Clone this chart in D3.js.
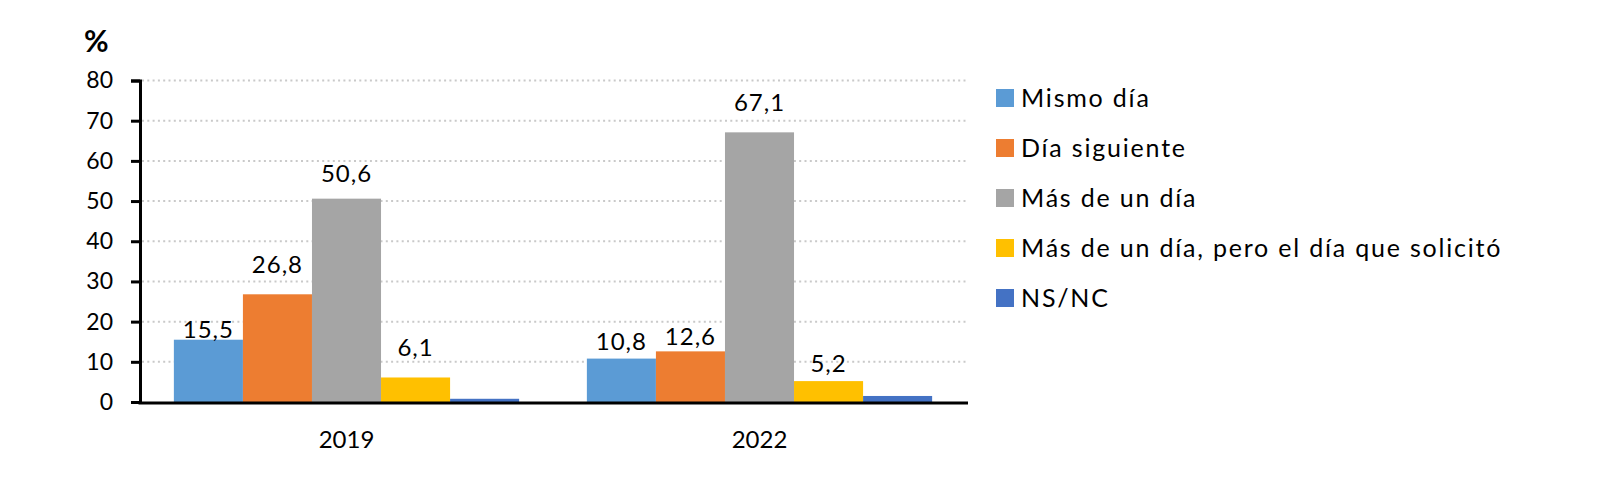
<!DOCTYPE html>
<html>
<head>
<meta charset="utf-8">
<script src="https://cdn.jsdelivr.net/npm/d3@7"></script>
<style>
  body { margin: 0; background: #fff; }
  text { font-family: Lato, "Open Sans", sans-serif; fill: #000; }
</style>
</head>
<body>
<div class="chart"></div>
<script>
// data
var years = ["2019", "2022"];
var seriesNames = ["Mismo día", "Día siguiente", "Más de un día", "Más de un día, pero el día que solicitó", "NS/NC"];
var values2019 = [15.5, 26.8, 50.6, 6.1, 0.8];
var values2022 = [10.8, 12.6, 67.1, 5.2, 1.5];
var labels2019 = ["15,5", "26,8", "50,6", "6,1", ""];
var labels2022 = ["10,8", "12,6", "67,1", "5,2", ""];
var yTicks = [0, 10, 20, 30, 40, 50, 60, 70, 80];

// styling
var colors = ["#5B9BD5", "#ED7D31", "#A5A5A5", "#FFC000", "#4472C4"];
// gap between label baseline and bar top (labels were placed by hand)
var labelLift = [[2, 21, 17, 21, 0], [9, 6, 21, 9, 0]];

setChart();

function setChart(){
    var width = 1602,
        height = 501;

    var svg = d3.select("div.chart")
        .append("svg")
        .attr("width", width)
        .attr("height", height);

    var x0 = d3.scaleBand()
        .domain(years)
        .range([140, 966])
        .paddingInner(0.164)
        .paddingOuter(0.082);

    var x1 = d3.scaleBand()
        .domain(d3.range(seriesNames.length))
        .range([0, x0.bandwidth()]);

    var y = d3.scaleLinear()
        .domain([0, 80])
        .range([402, 80.5]);

    //dotted gridlines
    svg.append("g")
        .selectAll("line")
        .data(yTicks.slice(1))
        .enter()
        .append("line")
        .attr("x1", 142)
        .attr("x2", 967)
        .attr("y1", function(d){ return y(d); })
        .attr("y2", function(d){ return y(d); })
        .attr("stroke", "#c9c9c9")
        .attr("stroke-width", 2)
        .attr("stroke-dasharray", "2,3.3");

    var rows = [values2019, values2022];
    var labelRows = [labels2019, labels2022];

    var groups = svg.selectAll(".year")
        .data(years)
        .enter()
        .append("g")
        .attr("class", "year")
        .attr("transform", function(d){ return "translate(" + x0(d) + ",0)"; });

    groups.selectAll("rect")
        .data(function(d, i){ return rows[i]; })
        .enter()
        .append("rect")
        .attr("x", function(d, j){ return x1(j); })
        .attr("y", function(d){ return y(d); })
        .attr("width", x1.bandwidth())
        .attr("height", function(d){ return y(0) - y(d); })
        .attr("fill", function(d, j){ return colors[j]; });

    groups.selectAll("text.val")
        .data(function(d, i){
            return rows[i].map(function(v, j){ return {v: v, t: labelRows[i][j], lift: labelLift[i][j]}; });
        })
        .enter()
        .append("text")
        .attr("class", "val")
        .attr("x", function(d, j){ return x1(j) + x1.bandwidth() / 2; })
        .attr("y", function(d){ return y(d.v) - d.lift; })
        .attr("text-anchor", "middle")
        .style("font-size", "24px")
        .style("letter-spacing", "1px")
        .text(function(d){ return d.t; });

    //y axis
    var yAxis = svg.append("g")
        .attr("transform", "translate(140,0)")
        .call(d3.axisLeft(y).tickValues(yTicks).tickSize(9).tickPadding(18));
    yAxis.select(".domain").attr("stroke", "#000").attr("stroke-width", 3);
    yAxis.selectAll(".tick line").attr("stroke", "#000").attr("stroke-width", 3);
    yAxis.selectAll(".tick text")
        .style("font-size", "23px")
        .style("font-family", "Lato, sans-serif")
        .attr("fill", "#000");

    //x axis line
    svg.append("line")
        .attr("x1", 138.5)
        .attr("x2", 968)
        .attr("y1", y(0) + 1)
        .attr("y2", y(0) + 1)
        .attr("stroke", "#000")
        .attr("stroke-width", 3);

    svg.selectAll("text.year")
        .data(years)
        .enter()
        .append("text")
        .attr("class", "year")
        .attr("x", function(d){ return x0(d) + x0.bandwidth() / 2; })
        .attr("y", 448)
        .attr("text-anchor", "middle")
        .style("font-size", "24px")
        .text(function(d){ return d; });

    svg.append("text")
        .attr("x", 84)
        .attr("y", 52)
        .style("font-size", "30px")
        .style("font-weight", "bold")
        .text("%");

    //legend
    var legend = svg.selectAll(".legend")
        .data(seriesNames)
        .enter()
        .append("g")
        .attr("class", "legend")
        .attr("transform", function(d, i){ return "translate(996," + (89 + i * 50) + ")"; });

    legend.append("rect")
        .attr("width", 18)
        .attr("height", 18)
        .attr("fill", function(d, i){ return colors[i]; });

    legend.append("text")
        .attr("x", 25)
        .attr("y", 18)
        .style("font-size", "25px")
        .style("letter-spacing", "1.8px")
        .text(function(d){ return d; });
}
</script>
</body>
</html>
